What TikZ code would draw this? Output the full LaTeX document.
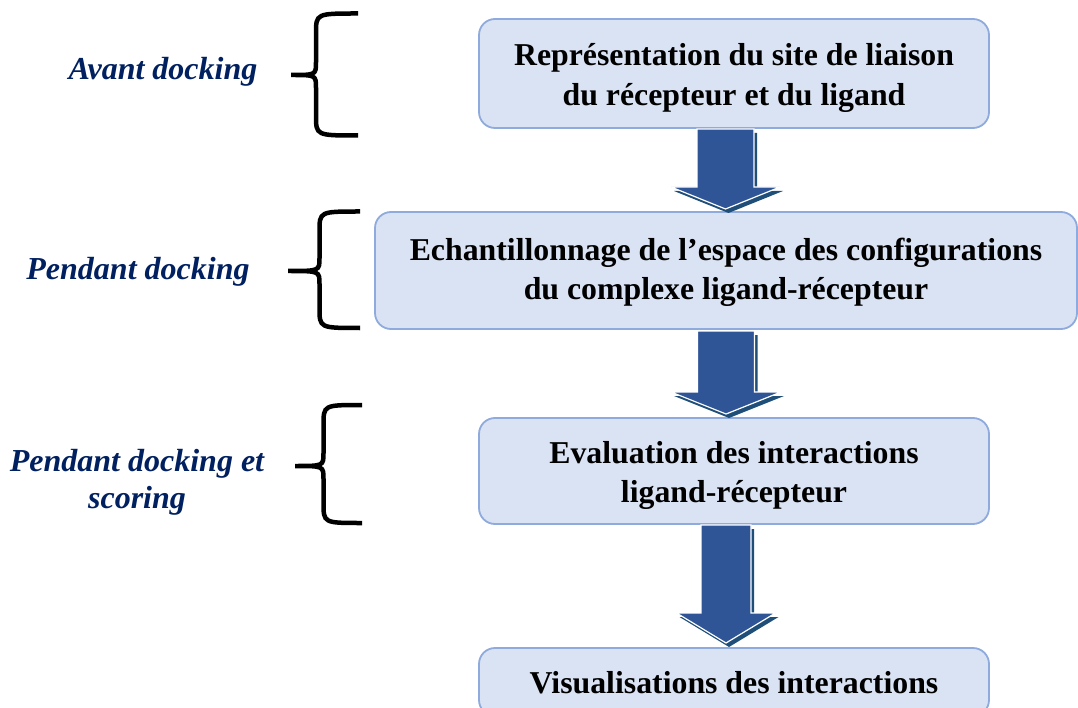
\documentclass[tikz,border=0pt]{standalone}
\usepackage{fontspec}
\setmainfont{Liberation Serif}
\usetikzlibrary{calc}
\definecolor{boxfill}{HTML}{DAE3F3}
\definecolor{boxline}{HTML}{8FAADC}
\definecolor{arrowblue}{HTML}{2F5597}
\definecolor{arrowdark}{HTML}{1F4E79}
\definecolor{labelblue}{HTML}{002060}
\newcommand\blockarr[6]{% #1 cx, #2 top, #3 head y, #4 tip y, #5 half shaft, #6 half head
  \fill[arrowdark] ({#1-#5+3},{#2+4}) -- ({#1+#5+3},{#2+4}) -- ({#1+#5+3},{#3+4}) -- ({#1+#6+3},{#3+4}) -- ({#1+3},{#4+4}) -- ({#1-#6+3},{#3+4}) -- ({#1-#5+3},{#3+4}) -- cycle;
  \filldraw[fill=arrowblue, draw=white, line width=1.2pt, line join=miter] ({#1-#5},#2) -- ({#1+#5},#2) -- ({#1+#5},#3) -- ({#1+#6},#3) -- (#1,#4) -- ({#1-#6},#3) -- ({#1-#5},#3) -- cycle;
}
\newcommand\bracedraw[6]{% #1 R, #2 S, #3 T, #4 top, #5 mid, #6 bot
  \draw[bracepath] (#1,#4) .. controls (#2,#4) .. (#2,{#4+20}) -- (#2,{#5-13}) .. controls (#2,#5) .. (#3,#5) .. controls (#2,#5) .. (#2,{#5+13}) -- (#2,{#6-20}) .. controls (#2,#6) .. (#1,#6);
}
\begin{document}
\begin{tikzpicture}[x=1pt,y=-1pt,
  stepbox/.style={draw=boxline, line width=1.8pt, fill=boxfill, rounded corners=16pt, inner sep=0pt},
  boxtext/.style={font=\fontsize{31.8}{39.5}\selectfont\bfseries, align=center, inner sep=0pt},
  phase/.style={text=labelblue, font=\fontsize{32}{37}\selectfont\bfseries\itshape, align=center, inner sep=0pt},
  bracepath/.style={line width=4.5pt, line cap=butt, line join=miter, black},
]
\useasboundingbox (0,0) rectangle (1078,708);
\clip (0,0) rectangle (1078,708);

% boxes
\node[stepbox, minimum width=510pt, minimum height=109pt] (b1) at (734,73.5) {};
\node[stepbox, minimum width=702pt, minimum height=117pt] (b2) at (726,270.5) {};
\node[stepbox, minimum width=510pt, minimum height=106pt] (b3) at (734,471) {};
\node[stepbox, minimum width=510pt, minimum height=68pt] (b4) at (734,682) {};

\node[boxtext] (t1) at ([yshift=-4.5pt]b1.center) {Représentation du site de liaison\\du récepteur et du ligand};
\node[boxtext] (t2) at ([yshift=-2pt]b2.center) {Echantillonnage de l’espace des configurations\\du complexe ligand-récepteur};
\node[boxtext] (t3) at ([yshift=-4.5pt]b3.center) {Evaluation des interactions\\ligand-récepteur};
\node[boxtext] (t4) at ([yshift=-1pt]b4.center) {Visualisations des interactions};

% block arrows
\blockarr{725.5}{129}{187}{209}{28.5}{54.5}
\blockarr{726}{331}{392}{414}{28.5}{55}
\blockarr{726}{525}{613}{643}{25}{49.5}

% braces
\bracedraw{358}{316}{291}{13.5}{75}{135.5}
\bracedraw{360}{319.5}{288}{211.5}{271}{328}
\bracedraw{362}{323.5}{295}{405}{466}{523}

% phase labels
\node[phase] (l1) at (163,72) {Avant docking};
\node[phase] (l2) at (138,272) {Pendant docking};
\node[phase] (l3) at (137,482) {Pendant docking et\\scoring};
\end{tikzpicture}
\end{document}
